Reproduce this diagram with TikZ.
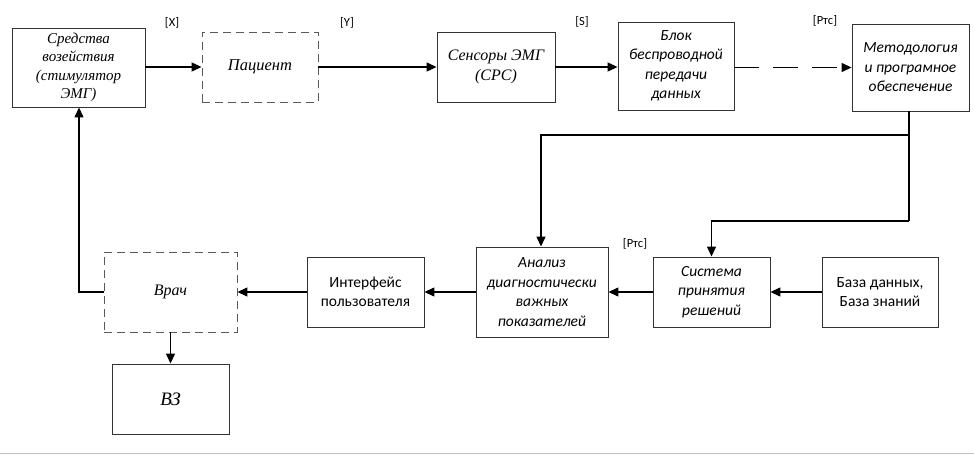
\documentclass[tikz,border=0pt]{standalone}
\usepackage{fontspec}
\setmainfont{Liberation Serif}
\newfontfamily\carfont{Carlito}
\usetikzlibrary{arrows.meta}
\begin{document}
\begin{tikzpicture}[x=1pt,y=-1pt,
  box/.style={draw=black!80,line width=0.9pt,rectangle,inner sep=0pt,align=center},
  dbox/.style={box,draw=black!65,dash pattern=on 8pt off 5pt},
  ser/.style={font=\fontsize{15}{18.5}\selectfont\itshape},
  sansi/.style={font=\carfont\fontsize{15.5}{19.5}\selectfont\itshape},
  sans/.style={font=\carfont\fontsize{15.5}{19.5}\selectfont},
  lbl/.style={font=\carfont\fontsize{12.5}{14}\selectfont,inner sep=0pt},
  arr/.style={line width=1.3pt,-{Triangle[length=10pt,width=9pt]}},
  ln/.style={line width=1.3pt}]
\useasboundingbox (0,0) rectangle (974,463);
\fill[white] (0,0) rectangle (974,463);
\draw[black!25,line width=1pt] (0,453) -- (974,453);

\node[box,ser,minimum width=133,minimum height=79] (sred) at (78.5,67.5) {Средства\\возействия\\(стимулятор\\ЭМГ)};
\node[dbox,ser,font=\fontsize{16.5}{18.5}\selectfont\itshape,minimum width=116,minimum height=70] (pac) at (260,67) {Пациент};
\node[box,ser,font=\fontsize{16}{20}\selectfont\itshape,minimum width=118,minimum height=70] (sens) at (496,67) {Сенсоры ЭМГ\\(СРС)};
\node[box,sansi,minimum width=116,minimum height=88] (blok) at (676,66) {Блок\\беспроводной\\передачи\\данных};
\node[box,sansi,minimum width=117,minimum height=87] (met) at (910.5,67.5) {Методология\\и програмное\\обеспечение};

\node[dbox,ser,font=\fontsize{16}{18.5}\selectfont\itshape,minimum width=133,minimum height=80] (vrach) at (170.5,292) {Врач};
\node[box,ser,font=\fontsize{19}{20}\selectfont\itshape,minimum width=117,minimum height=70] (vz) at (170.5,399) {ВЗ};
\node[box,sans,minimum width=117,minimum height=70] (intf) at (365.5,292) {Интерфейс\\пользователя};
\node[box,sansi,minimum width=132,minimum height=90] (anal) at (542,292) {Анализ\\диагностически\\важных\\показателей};
\node[box,sansi,minimum width=117,minimum height=70] (sist) at (711.5,292) {Система\\принятия\\решений};
\node[box,sans,minimum width=116,minimum height=70] (baza) at (880,292) {База данных,\\База знаний};

\node[lbl] (lx) at (172,23) {[X]};
\node[lbl] (ly) at (347,23) {[Y]};
\node[lbl] (ls) at (582,22) {[S]};
\node[lbl] (lp1) at (825,21) {[Ртс]};
\node[lbl] (lp2) at (635,244) {[Ртс]};

\draw[arr] (sred.east |- 0,67) -- (pac.west |- 0,67);
\draw[arr] (pac.east) -- (sens.west);
\draw[arr] (sens.east) -- (blok.west |- sens.east);
\draw[arr,dash pattern=on 25pt off 14pt] (blok.east |- met.west) -- (met.west);

\coordinate (m1) at (909,135);
\coordinate (m2) at (909,221);
\draw[ln] (met.south -| m1) -- (m2);
\draw[arr] (m1) -| (anal.north -| 541,0);
\draw[arr] (m2) -| (sist.north);

\draw[arr] (baza.west) -- (sist.east);
\draw[arr] (sist.west) -- (anal.east);
\draw[arr] (anal.west) -- (intf.east);
\draw[arr] (intf.west) -- (vrach.east);
\draw[arr] (vrach.west) -| (sred.south -| 79,0);
\draw[arr] (vrach.south) -- (vz.north);
\end{tikzpicture}
\end{document}
